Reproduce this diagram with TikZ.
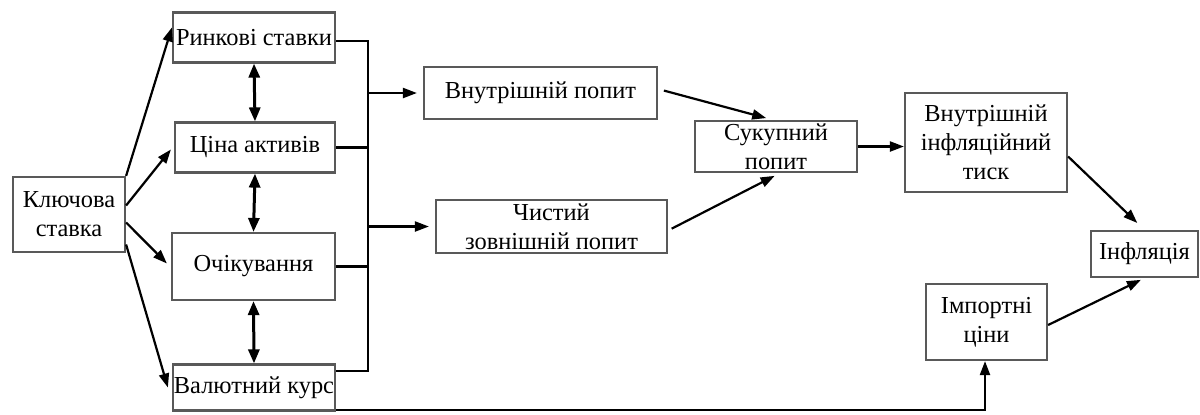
\documentclass[tikz,border=0pt]{standalone}
\usepackage{fontspec}
\setmainfont{Liberation Serif}
\usetikzlibrary{arrows.meta}

\begin{document}
\begin{tikzpicture}[x=0.5pt, y=0.5pt,
    box/.style = {draw=black!65, line width=1.1pt, inner sep=0pt, align=center, font=\fontsize{12.2}{14.5}\selectfont},
    arr/.style = {line width=1.1pt, -{Triangle[length=7pt, width=5pt]}},
    darr/.style = {line width=1.5pt, {Triangle[length=7pt, width=5.5pt]}-{Triangle[length=7pt, width=5.5pt]}},
    line/.style = {line width=1.1pt}]
    \useasboundingbox (0,0) rectangle (1200,-414);
    % left column
    \node[box, minimum width=56pt, minimum height=37.5pt] (ks) at (69,-214.5) {Ключова\\ставка};
    \node[box, minimum width=81pt, minimum height=25pt] (rs) at (254,-37.5) {Ринкові ставки};
    \node[box, minimum width=80pt, minimum height=25pt] (ca) at (255,-147.5) {Ціна активів};
    \node[box, minimum width=81.5pt, minimum height=33.5pt] (oc) at (253.5,-266.5) {Очікування};
    \node[box, minimum width=81pt, minimum height=23pt] (vk) at (254,-387.5) {Валютний курс};
    % middle
    \node[box, minimum width=116.5pt, minimum height=26pt] (vp) at (540.5,-93) {Внутрішній попит};
    \node[box, minimum width=115.5pt, minimum height=26.5pt] (chz) at (551.5,-226.5) {Чистий\\зовнішній попит};
    \node[box, minimum width=81pt, minimum height=25.5pt] (sp) at (776,-146.5) {Сукупний\\попит};
    % right
    \node[box, minimum width=81pt, minimum height=49.5pt] (vit) at (986,-142.5) {Внутрішній\\інфляційний\\тиск};
    \node[box, minimum width=53.5pt, minimum height=23pt] (inf) at (1144.5,-254) {Інфляція};
    \node[box, minimum width=60.5pt, minimum height=38pt] (ic) at (986.5,-322) {Імпортні\\ціни};
    \coordinate (bt) at (368,-41);
    \coordinate (bb) at (368,-371);
    % key rate arrows
    \draw[arr] (ks.north east) -- ([yshift=5pt]rs.west);
    \draw[arr] ([yshift=4.5pt]ks.east) -- ([xshift=-1.5pt,yshift=-1pt]ca.west);
    \draw[arr] ([yshift=-4pt]ks.east) -- ([xshift=-2pt,yshift=1.5pt]oc.west);
    \draw[arr] ([yshift=-15pt]ks.east) -- ([xshift=-2pt]vk.west);
    \draw[darr] (rs.south) -- (ca.north);
    \draw[darr] (ca.south) -- (oc.north);
    \draw[darr] (oc.south) -- (vk.north);
    % bus
    \draw[line] (rs.east |- bt) -- (bt) -- (bb) -- (bb -| vk.east);
    \draw[line] (ca.east) -- (ca.east -| bt);
    \draw[line] (oc.east) -- (oc.east -| bt);
    \draw[arr, shorten >=3pt] (vp.west -| bb) -- (vp.west);
    \draw[arr, shorten >=3pt] (chz.west -| bb) -- (chz.west);
    \draw[arr] ([yshift=1pt]vk.south east) -| ([xshift=-0.75pt]ic.south);
    % demand
    \draw[arr, shorten <=3pt, shorten >=3.5pt] ([yshift=2pt]vp.east) -- ([xshift=-1.5pt]sp.north);
    \draw[arr, shorten <=2pt, shorten >=3pt] ([yshift=-2pt]chz.east) -- ([xshift=2pt]sp.south);
    \draw[arr] (sp.east) -- (sp.east -| vit.west);
    \draw[arr, shorten >=5pt] ([yshift=-7pt]vit.east) -- (inf.north);
    \draw[arr, shorten >=2pt] ([yshift=-1.5pt]ic.east) -- (inf.south);
\end{tikzpicture}
\end{document}
